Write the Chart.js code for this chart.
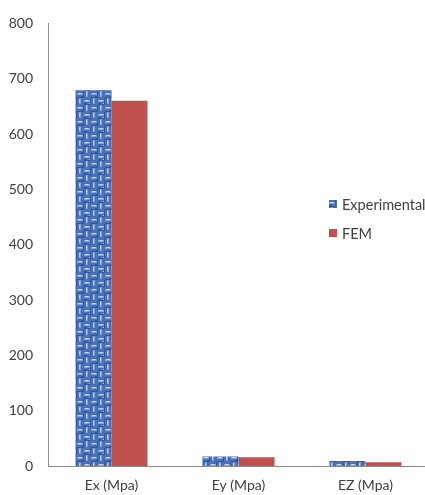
<!DOCTYPE html>
<html>
<head>
<meta charset="utf-8">
<script src="https://cdn.jsdelivr.net/npm/chart.js@4/dist/chart.umd.min.js"></script>
<style>
  html, body { margin: 0; padding: 0; background: #fff; overflow: hidden; }
  #wrap { position: relative; width: 425px; height: 495px; overflow: hidden; }
  #chart { position: absolute; left: 0; top: 0; }
  .lg { position: absolute; left: 329px; height: 16px; display: flex; align-items: center;
        font: 14.5px Lato, "Open Sans", sans-serif; color: #404040; white-space: nowrap; }
  .lg canvas { width: 8px; height: 8px; margin-right: 5px; flex: none; }
</style>
</head>
<body>
<div id="wrap">
  <canvas id="chart" width="432" height="495"></canvas>
</div>
<script>
// Moduli of elasticity: test results vs. finite element model
const categories = ['Ex (Mpa)', 'Ey (Mpa)', 'EZ (Mpa)'];
const seriesNames = ['Experimental', 'FEM'];
const experimental = [679, 17, 9];
const fem = [660, 16, 7];
const yMin = 0, yMax = 800, yStep = 100;

const femColor = '#c0504d';
const textColor = '#404040';
const font = { family: 'Lato, "Open Sans", sans-serif', size: 14 };

// Loose-weave blue texture for the experimental series
function wovenPattern() {
  const c = document.createElement('canvas');
  c.width = 14; c.height = 14;
  const g = c.getContext('2d');
  g.fillStyle = '#4a70b5'; g.fillRect(0, 0, 14, 14);
  g.fillStyle = '#7fa3dc';
  g.fillRect(0, 2, 6, 2); g.fillRect(7, 9, 6, 2);
  g.fillRect(9, 0, 2, 6); g.fillRect(2, 7, 2, 6);
  g.fillStyle = '#a8c4ee';
  g.fillRect(1, 2, 4, 1); g.fillRect(8, 9, 4, 1);
  g.fillRect(9, 1, 1, 4); g.fillRect(2, 8, 1, 4);
  g.fillRect(12, 12, 1, 1); g.fillRect(5, 5, 1, 1);
  g.fillStyle = '#d2e1f8';
  g.fillRect(2, 2, 2, 1); g.fillRect(9, 2, 1, 1); g.fillRect(2, 9, 1, 1); g.fillRect(9, 9, 2, 1);
  g.fillStyle = '#34569a';
  g.fillRect(6, 0, 1, 7); g.fillRect(0, 6, 7, 1);
  g.fillRect(13, 7, 1, 7); g.fillRect(7, 13, 7, 1);
  g.fillRect(0, 5, 3, 1); g.fillRect(11, 12, 2, 1);
  return g.createPattern(c, 'repeat');
}
const ctx = document.getElementById('chart').getContext('2d');
const expFill = wovenPattern();

new Chart(ctx, {
  type: 'bar',
  data: {
    labels: categories,
    datasets: [
      { label: seriesNames[0], data: experimental, backgroundColor: expFill },
      { label: seriesNames[1], data: fem, backgroundColor: femColor }
    ]
  },
  options: {
    responsive: false,
    animation: false,
    devicePixelRatio: 1,
    layout: { padding: { top: 16, right: 3, left: 0, bottom: 0 } },
    datasets: { bar: { categoryPercentage: 0.567, barPercentage: 1.0 } },
    plugins: { legend: { display: false }, tooltip: { enabled: false } },
    scales: {
      x: {
        grid: { display: false, drawTicks: false },
        border: { display: true, color: '#8c8c8c', width: 1 },
        ticks: { color: textColor, font: font, padding: 11, maxRotation: 0 },
        afterFit: s => { s.height = 29; }
      },
      y: {
        min: yMin, max: yMax,
        grid: { display: false, drawTicks: false },
        border: { display: true, color: '#8c8c8c', width: 1 },
        ticks: { stepSize: yStep, color: textColor, font: font, padding: 15 },
        afterFit: s => { s.width = 48; }
      }
    }
  }
});

// Legend placed inside the plot, right of the last category
const wrap = document.getElementById('wrap');
const legendTops = [196, 225];
seriesNames.forEach((name, i) => {
  const item = document.createElement('div');
  item.className = 'lg';
  item.style.top = legendTops[i] + 'px';
  const sw = document.createElement('canvas');
  sw.width = 8; sw.height = 8;
  const sg = sw.getContext('2d');
  sg.fillStyle = i === 0 ? wovenPattern() : femColor;
  sg.fillRect(0, 0, 8, 8);
  item.appendChild(sw);
  const t = document.createElement('span');
  t.textContent = name;
  item.appendChild(t);
  wrap.appendChild(item);
});
</script>
</body>
</html>
